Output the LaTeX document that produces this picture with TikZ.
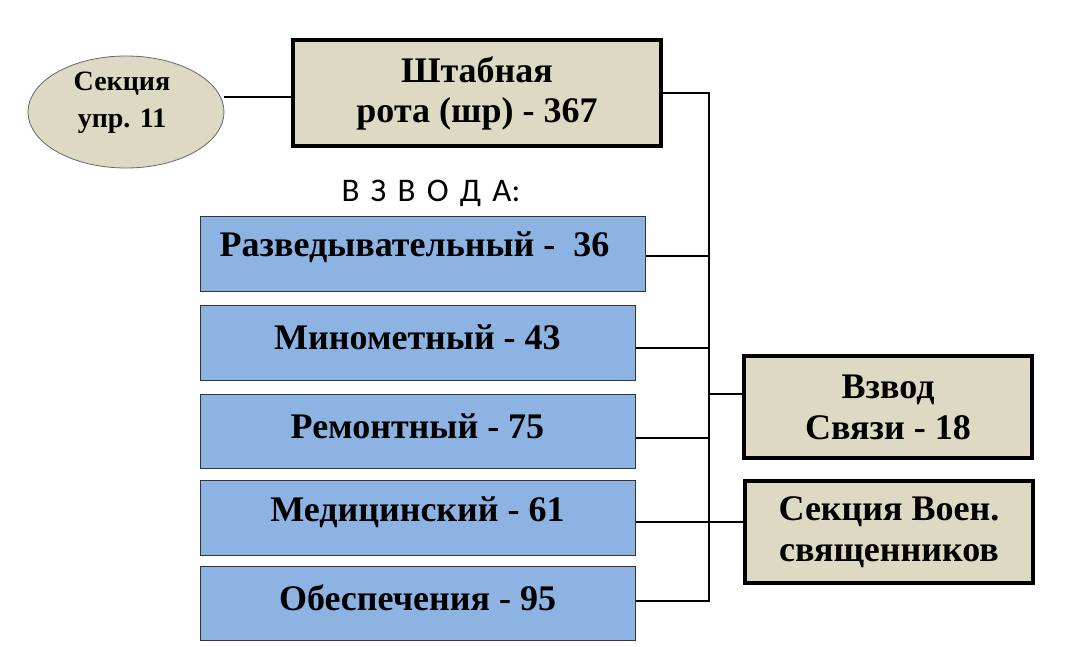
\documentclass[tikz,border=0pt]{standalone}
\usepackage{fontspec}
\usetikzlibrary{shapes.geometric}
\setmainfont{Liberation Serif}
\newfontfamily\calib{Carlito}
\definecolor{beige}{HTML}{DDD9C3}
\definecolor{bluefill}{HTML}{8DB3E2}
\begin{document}
\begin{tikzpicture}[x=1pt,y=-1pt,
  conn/.style={draw=black,line width=2pt},
  beigebox/.style={draw=black,line width=4pt,fill=beige,inner sep=0pt,align=center,font=\bfseries\fontsize{36}{41}\selectfont},
  bluebox/.style={draw=black!80,line width=1pt,fill=bluefill,inner sep=0pt},
  lbl/.style={font=\bfseries\fontsize{36}{40}\selectfont}]
\useasboundingbox (0,0) rectangle (1091,647);
% ellipse
\node[ellipse,draw=black!60,line width=0.8pt,fill=beige,minimum width=196pt,minimum height=112pt,inner sep=0pt,
  label={[align=center,font=\bfseries\fontsize{28}{37}\selectfont,yshift=9pt,xshift=-4pt]center:Секция\\упр. 11}] (e) at (126,112) {};
% header
\node[beigebox,minimum width=368pt,minimum height=106pt,font=\bfseries\fontsize{36}{40}\selectfont] (h) at (477,93) {Штабная\\рота (шр) - 367};
% title
\node[font=\calib\fontsize{33}{36}\selectfont] (t) at (431,193) {В\hspace{0.34em}З\hspace{0.34em}В\hspace{0.34em}О\hspace{0.34em}Д\hspace{0.34em}А:};
% blue boxes
\node[bluebox,minimum width=445pt,minimum height=75pt,label={[lbl,yshift=6pt,xshift=-8pt]center:Разведывательный -~~36}] (b1) at (422.5,253.5) {};
\node[bluebox,minimum width=435pt,minimum height=75pt,label={[lbl,yshift=5pt]center:Минометный - 43}] (b2) at (417.5,342.5) {};
\node[bluebox,minimum width=435pt,minimum height=74pt,label={[lbl,yshift=5pt]center:Ремонтный - 75}] (b3) at (417.5,431) {};
\node[bluebox,minimum width=435pt,minimum height=75pt,label={[lbl,yshift=5pt]center:Медицинский - 61}] (b4) at (417.5,517.5) {};
\node[bluebox,minimum width=435pt,minimum height=74pt,label={[lbl,yshift=5pt]center:Обеспечения - 95}] (b5) at (417.5,603) {};
% right boxes
\node[beigebox,minimum width=288pt,minimum height=102pt] (v) at (888,407) {Взвод\\Связи - 18};
\node[beigebox,minimum width=288pt,minimum height=102pt] (s) at (889,532) {Секция Воен.\\священников};
% connectors
\coordinate (bt) at (709,93);
\coordinate (bb) at (709,601);
\draw[conn] ([yshift=-4pt]h.west) -- ([yshift=-4pt]h.west -| e.east);
\draw[conn] (h.east) -- (bt) -- (bb) -- (bb -| b5.east);
\draw[conn] ([yshift=-2.5pt]b1.east) -- ([yshift=-2.5pt]b1.east -| bt);
\draw[conn] ([yshift=-5.5pt]b2.east) -- ([yshift=-5.5pt]b2.east -| bt);
\draw[conn] ([yshift=-7pt]b3.east) -- ([yshift=-7pt]b3.east -| bt);
\draw[conn] ([yshift=-4pt]b4.east) -- ([yshift=-4pt]b4.east -| s.west);
\draw[conn] ([yshift=13pt]v.west -| bt) -- ([yshift=13pt]v.west);
\end{tikzpicture}
\end{document}
